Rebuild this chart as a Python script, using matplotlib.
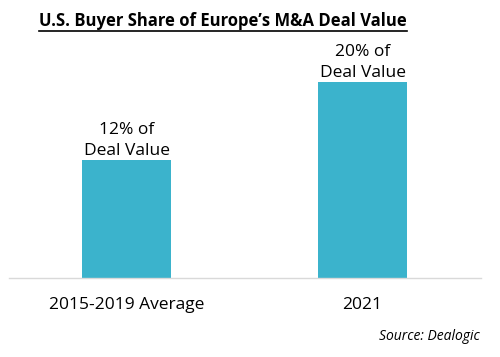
import matplotlib.pyplot as plt
from matplotlib.lines import Line2D

# --- данные ---
categories = ["2015-2019 Average", "2021"]
shares = [12, 20]
bar_labels = ["12% of\nDeal Value", "20% of\nDeal Value"]

bar_color = "#3BB3CC"
plt.rcParams["font.family"] = ["Open Sans", "DejaVu Sans"]

fig = plt.figure(figsize=(5.0, 3.57), dpi=100)
# оси: от x=8.5 до 480.5 px, от y=40 до 278 px (сверху)
ax = fig.add_axes([8.5 / 500, 1 - 278 / 357, 472 / 500, 238 / 357])

x = range(len(categories))
bars = ax.bar(x, shares, width=0.377, color=bar_color, zorder=2)
ax.set_xlim(-0.5, 1.5)
ax.set_ylim(0, 238 / 9.8)

for b, lab in zip(bars, bar_labels):
    ax.annotate(lab, (b.get_x() + b.get_width() / 2, b.get_height()),
                xytext=(0, 1), textcoords="offset points",
                ha="center", va="bottom", fontsize=12.5, linespacing=1.4)

ax.set_xticks(list(x))
ax.set_xticklabels(categories, fontsize=12.5)
ax.tick_params(axis="x", length=0, pad=14)
ax.set_yticks([])
for s in ["top", "right", "left"]:
    ax.spines[s].set_visible(False)
ax.spines["bottom"].set_color("#D9D9D9")
ax.spines["bottom"].set_linewidth(1)

title = fig.text(223 / 500, 1 - 21 / 357,
                 "U.S. Buyer Share of Europe\u2019s M&A Deal Value",
                 ha="center", va="center", fontsize=12, fontweight="bold")
fig.text(480 / 500, 1 - 337 / 357, "Source: Dealogic",
         ha="right", va="center", fontsize=10, style="italic")

# подчёркивание заголовка
fig.canvas.draw()
bb = title.get_window_extent().transformed(fig.transFigure.inverted())
y_line = bb.y0 - 1.0 / 357
fig.add_artist(Line2D([bb.x0, bb.x1], [y_line, y_line],
                      transform=fig.transFigure, color="black", linewidth=1.2))

plt.savefig("out.png", dpi=100)
